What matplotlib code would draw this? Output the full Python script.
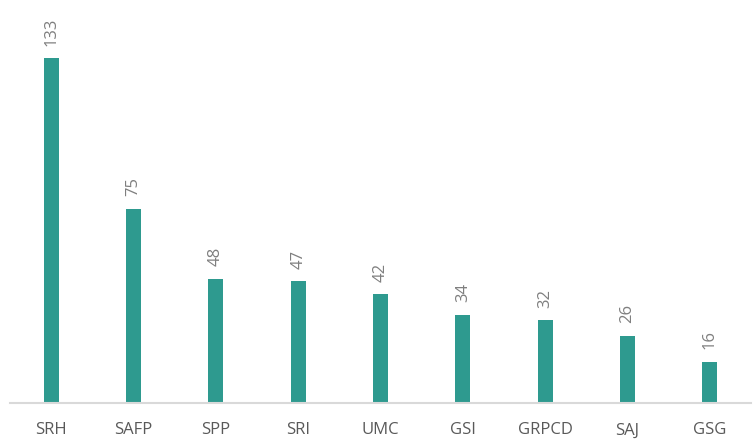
import matplotlib.pyplot as plt

categories = ['SRH', 'SAFP', 'SPP', 'SRI', 'UMC', 'GSI', 'GRPCD', 'SAJ', 'GSG']
values = [133, 75, 48, 47, 42, 34, 32, 26, 16]

plt.rcParams['font.family'] = ['Open Sans', 'DejaVu Sans']

fig = plt.figure(figsize=(7.56, 4.41), dpi=100)
ax = fig.add_axes([10 / 756, 38 / 441, 741 / 756, 403 / 441])

x = range(len(categories))
bars = ax.bar(x, values, width=0.18, color='#2E9A8F')

# value labels, rotated
for xi, v in zip(x, values):
    ax.annotate(str(v), (xi, v), xytext=(0, 9), textcoords='offset points',
                rotation=90, ha='center', va='bottom', fontsize=12, color='#7f7f7f')

ax.set_xlim(-0.5, len(categories) - 0.5)
ax.set_ylim(0, 155.4)
ax.set_xticks(list(x))
ax.set_xticklabels(categories, fontsize=12, color='#595959')
ax.tick_params(axis='x', length=0, pad=14)
ax.set_yticks([])
for s in ['top', 'right', 'left']:
    ax.spines[s].set_visible(False)
ax.spines['bottom'].set_color('#d9d9d9')
ax.spines['bottom'].set_linewidth(1.5)

fig.savefig('out.png', dpi=100)
